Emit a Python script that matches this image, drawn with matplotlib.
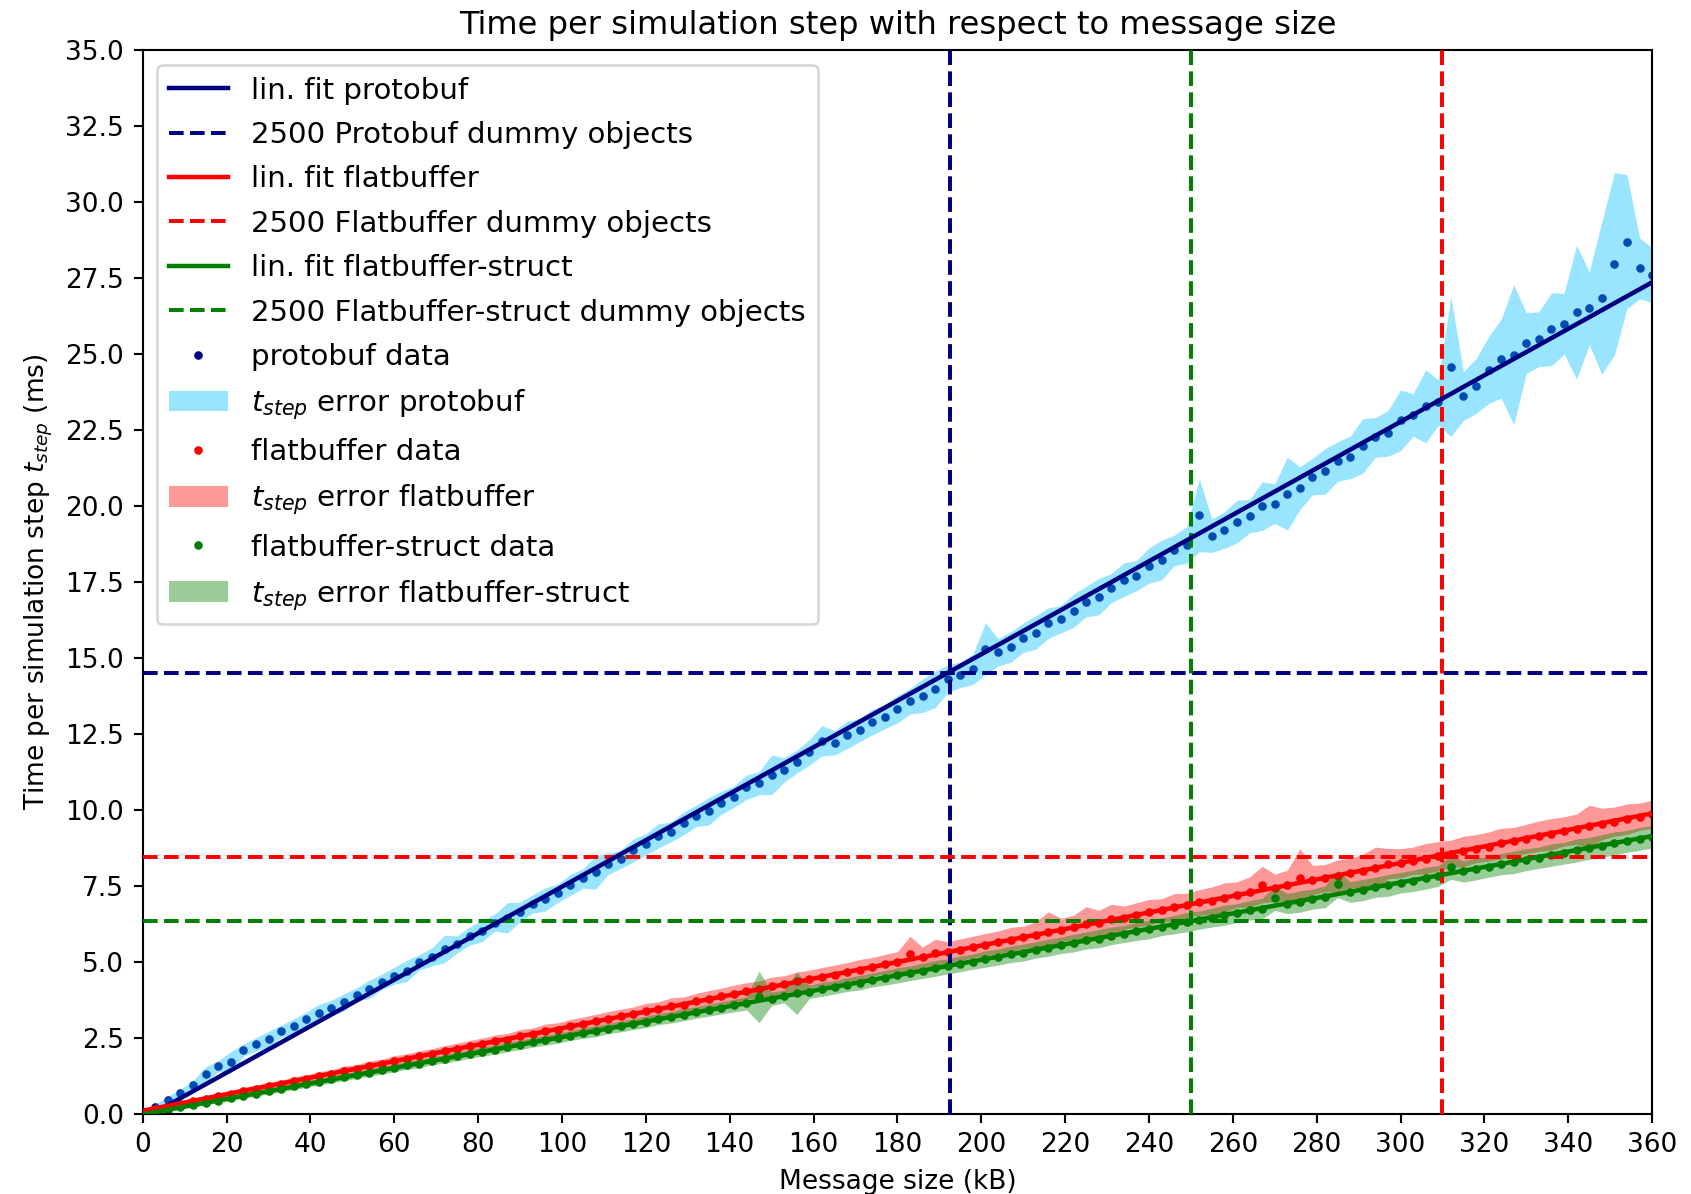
import numpy as np
import matplotlib
matplotlib.use("Agg")
import matplotlib.pyplot as plt

# ---------------- data ----------------
x_kb = [0, 3, 6, 9, 12, 15, 18, 21, 24, 27, 30, 33, 36, 39, 42, 45, 48, 51, 54, 57,
        60, 63, 66, 69, 72, 75, 78, 81, 84, 87, 90, 93, 96, 99, 102, 105, 108, 111, 114, 117,
        120, 123, 126, 129, 132, 135, 138, 141, 144, 147, 150, 153, 156, 159, 162, 165, 168, 171, 174, 177,
        180, 183, 186, 189, 192, 195, 198, 201, 204, 207, 210, 213, 216, 219, 222, 225, 228, 231, 234, 237,
        240, 243, 246, 249, 252, 255, 258, 261, 264, 267, 270, 273, 276, 279, 282, 285, 288, 291, 294, 297,
        300, 303, 306, 309, 312, 315, 318, 321, 324, 327, 330, 333, 336, 339, 342, 345, 348, 351, 354, 357,
        360]

protobuf_mean = [0.08, 0.23, 0.46, 0.70, 0.95, 1.30, 1.58, 1.70, 2.10, 2.29, 2.47, 2.72, 2.88, 3.13, 3.31, 3.49, 3.67, 3.93, 4.10, 4.35,
                 4.55, 4.71, 4.99, 5.17, 5.43, 5.58, 5.86, 6.02, 6.30, 6.45, 6.65, 6.91, 7.06, 7.26, 7.54, 7.75, 7.95, 8.23, 8.38, 8.67,
                 8.87, 9.15, 9.28, 9.56, 9.81, 9.96, 10.24, 10.44, 10.75, 10.88, 11.16, 11.32, 11.59, 11.90, 12.28, 12.21, 12.47, 12.63, 12.89, 13.07,
                 13.32, 13.58, 13.76, 13.97, 14.32, 14.45, 14.63, 15.31, 15.19, 15.36, 15.67, 15.84, 16.15, 16.28, 16.56, 16.86, 17.02, 17.30, 17.58, 17.71,
                 18.04, 18.22, 18.54, 18.72, 19.70, 19.03, 19.21, 19.49, 19.67, 20.00, 20.08, 20.41, 20.59, 20.97, 21.14, 21.47, 21.60, 21.98, 22.26, 22.39,
                 22.82, 23.00, 23.28, 23.41, 24.59, 23.62, 23.95, 24.47, 24.85, 24.98, 25.36, 25.49, 25.82, 26.00, 26.38, 26.51, 26.84, 27.97, 28.70, 27.82,
                 27.60]
protobuf_std = [0.06, 0.10, 0.12, 0.12, 0.15, 0.25, 0.18, 0.35, 0.20, 0.22, 0.25, 0.20, 0.25, 0.22, 0.30, 0.25, 0.28, 0.22, 0.30, 0.25,
                0.28, 0.35, 0.25, 0.30, 0.45, 0.28, 0.30, 0.35, 0.28, 0.50, 0.32, 0.30, 0.38, 0.30, 0.35, 0.32, 0.55, 0.35, 0.30, 0.38,
                0.35, 0.40, 0.32, 0.38, 0.35, 0.45, 0.38, 0.35, 0.40, 0.38, 0.65, 0.40, 0.38, 0.42, 0.50, 0.40, 0.45, 0.38, 0.42, 0.40,
                0.45, 0.42, 0.55, 0.60, 0.45, 0.42, 0.50, 0.85, 0.45, 0.50, 0.48, 0.55, 0.50, 0.45, 0.55, 0.50, 0.60, 0.48, 0.55, 0.50,
                0.58, 0.65, 0.50, 0.60, 1.20, 0.55, 0.60, 0.70, 0.55, 0.80, 0.65, 1.20, 0.70, 0.60, 0.75, 0.65, 0.70, 0.90, 0.65, 0.75,
                1.00, 0.70, 1.20, 0.75, 2.30, 0.80, 0.90, 1.10, 1.30, 2.30, 1.00, 0.90, 1.20, 1.00, 2.20, 1.20, 2.50, 3.00, 2.20, 1.00,
                0.90]

flatbuffer_mean = [0.08, 0.16, 0.25, 0.33, 0.43, 0.50, 0.60, 0.66, 0.76, 0.83, 0.93, 0.98, 1.09, 1.15, 1.25, 1.31, 1.42, 1.47, 1.58, 1.64,
                   1.75, 1.80, 1.91, 1.96, 2.07, 2.13, 2.23, 2.29, 2.40, 2.45, 2.56, 2.62, 2.73, 2.78, 2.89, 2.95, 3.06, 3.12, 3.22, 3.28,
                   3.38, 3.45, 3.55, 3.60, 3.71, 3.78, 3.88, 3.94, 4.05, 4.10, 4.20, 4.27, 4.36, 4.44, 4.52, 4.58, 4.68, 4.75, 4.84, 4.93,
                   5.00, 5.25, 5.16, 5.30, 5.33, 5.40, 5.50, 5.57, 5.66, 5.74, 5.82, 5.90, 6.00, 6.06, 6.14, 6.24, 6.30, 6.40, 6.46, 6.55,
                   6.64, 6.70, 6.80, 6.86, 6.96, 7.02, 7.12, 7.22, 7.30, 7.55, 7.44, 7.52, 7.78, 7.70, 7.76, 7.84, 7.93, 8.00, 8.08, 8.24,
                   8.25, 8.33, 8.40, 8.48, 8.56, 8.64, 8.73, 8.80, 8.90, 8.97, 9.05, 9.14, 9.20, 9.30, 9.37, 9.46, 9.54, 9.62, 9.70, 9.78,
                   9.86]
flatbuffer_std = [0.04, 0.05, 0.06, 0.07, 0.08, 0.09, 0.10, 0.10, 0.12, 0.11, 0.13, 0.12, 0.14, 0.13, 0.15, 0.14, 0.16, 0.15, 0.17, 0.16,
                  0.17, 0.18, 0.17, 0.19, 0.18, 0.20, 0.19, 0.21, 0.20, 0.20, 0.22, 0.21, 0.23, 0.22, 0.22, 0.24, 0.22, 0.25, 0.23, 0.24,
                  0.26, 0.24, 0.27, 0.25, 0.26, 0.28, 0.26, 0.30, 0.27, 0.28, 0.30, 0.28, 0.31, 0.29, 0.30, 0.32, 0.30, 0.33, 0.31, 0.32,
                  0.34, 0.60, 0.33, 0.45, 0.34, 0.36, 0.35, 0.37, 0.36, 0.40, 0.36, 0.42, 0.65, 0.38, 0.40, 0.58, 0.40, 0.50, 0.38, 0.40,
                  0.42, 0.38, 0.45, 0.40, 0.42, 0.45, 0.48, 0.42, 0.50, 0.60, 0.45, 0.50, 0.95, 0.48, 0.45, 0.52, 0.48, 0.55, 0.70, 0.50,
                  0.48, 0.45, 0.50, 0.48, 0.45, 0.50, 0.46, 0.48, 0.50, 0.46, 0.48, 0.50, 0.52, 0.48, 0.50, 0.70, 0.52, 0.48, 0.50, 0.45,
                  0.46]

struct_mean = [0.02, 0.07, 0.14, 0.22, 0.29, 0.37, 0.44, 0.52, 0.60, 0.67, 0.75, 0.82, 0.91, 0.98, 1.05, 1.14, 1.21, 1.29, 1.36, 1.44,
               1.51, 1.60, 1.66, 1.75, 1.81, 1.90, 1.97, 2.05, 2.12, 2.21, 2.27, 2.36, 2.42, 2.50, 2.58, 2.66, 2.72, 2.81, 2.88, 2.96,
               3.03, 3.12, 3.18, 3.27, 3.34, 3.42, 3.49, 3.57, 3.64, 3.85, 3.79, 3.87, 3.97, 4.02, 4.10, 4.17, 4.26, 4.32, 4.41, 4.48,
               4.56, 4.63, 4.71, 4.79, 4.86, 4.94, 5.01, 5.10, 5.16, 5.25, 5.31, 5.40, 5.47, 5.55, 5.62, 5.71, 5.77, 5.86, 5.92, 6.01,
               6.07, 6.16, 6.23, 6.31, 6.38, 6.46, 6.54, 6.61, 6.70, 6.76, 7.10, 6.92, 6.99, 7.07, 7.15, 7.57, 7.30, 7.37, 7.46, 7.52,
               7.61, 7.67, 7.76, 7.83, 8.12, 7.98, 8.06, 8.13, 8.22, 8.28, 8.37, 8.43, 8.52, 8.58, 8.67, 8.74, 8.82, 8.90, 8.97, 9.05,
               9.12]
struct_std = [0.03, 0.04, 0.05, 0.05, 0.06, 0.07, 0.07, 0.08, 0.08, 0.09, 0.09, 0.10, 0.10, 0.11, 0.10, 0.12, 0.11, 0.12, 0.12, 0.13,
              0.12, 0.13, 0.14, 0.13, 0.14, 0.15, 0.14, 0.15, 0.15, 0.16, 0.15, 0.16, 0.16, 0.17, 0.16, 0.17, 0.18, 0.17, 0.18, 0.18,
              0.19, 0.18, 0.19, 0.20, 0.19, 0.20, 0.20, 0.21, 0.22, 0.85, 0.22, 0.21, 0.70, 0.22, 0.23, 0.22, 0.23, 0.24, 0.23, 0.24,
              0.25, 0.24, 0.25, 0.26, 0.25, 0.26, 0.25, 0.27, 0.26, 0.27, 0.28, 0.27, 0.28, 0.27, 0.29, 0.28, 0.30, 0.29, 0.28, 0.30,
              0.31, 0.29, 0.30, 0.32, 0.30, 0.31, 0.33, 0.31, 0.32, 0.34, 0.40, 0.33, 0.35, 0.33, 0.36, 0.45, 0.34, 0.35, 0.33, 0.36,
              0.34, 0.35, 0.36, 0.34, 0.40, 0.35, 0.36, 0.34, 0.35, 0.37, 0.36, 0.35, 0.37, 0.36, 0.38, 0.36, 0.37, 0.38, 0.36, 0.38,
              0.37]

# reference lines for 2500 dummy objects
protobuf_2500 = (192.5, 14.5)        # (kB, ms)
flatbuffer_2500 = (310.0, 8.45)
struct_2500 = (250.0, 6.35)

# ---------------- plot ----------------
DPI = 190
fig = plt.figure(figsize=(1691 / DPI, 1194 / DPI), dpi=DPI)
ax = fig.add_axes([0.0844, 0.067, 0.8926, 0.891])

x = np.array(x_kb, dtype=float)

series = [
    ("protobuf", "Protobuf", protobuf_mean, protobuf_std, "navy", "deepskyblue", protobuf_2500),
    ("flatbuffer", "Flatbuffer", flatbuffer_mean, flatbuffer_std, "red", "red", flatbuffer_2500),
    ("flatbuffer-struct", "Flatbuffer-struct", struct_mean, struct_std, "green", "green", struct_2500),
]

line_handles = []
data_handles = []
for name, cap, mean, std, col, fcol, ref in series:
    m = np.array(mean)
    s = np.array(std)
    d, = ax.plot(x, m, ".", color=col, markersize=4.5, zorder=2, label=f"{name} data")
    f = ax.fill_between(x, m - s, m + s, color=fcol, alpha=0.4, linewidth=0, zorder=2,
                        label=r"$t_{step}$ error " + name)
    data_handles += [d, f]
    k, b = np.polyfit(x, m, 1)
    fl, = ax.plot(x, k * x + b, "-", color=col, linewidth=1.7, zorder=4, label=f"lin. fit {name}")
    ax.axvline(ref[0], color=col, linestyle="--", linewidth=1.5, zorder=3)
    hl = ax.axhline(ref[1], color=col, linestyle="--", linewidth=1.5, zorder=3,
                    label=f"2500 {cap} dummy objects")
    line_handles += [fl, hl]

ax.set_xlim(0, 360)
ax.set_ylim(0, 35)
ax.set_xticks(np.arange(0, 361, 20))
ax.set_yticks(np.arange(0, 35.01, 2.5))
ax.set_title("Time per simulation step with respect to message size", fontsize=12.2)
ax.set_xlabel("Message size (kB)")
ax.set_ylabel(r"Time per simulation step $t_{step}$ (ms)")

handles = line_handles + data_handles
ax.legend(handles=handles, labels=[h.get_label() for h in handles], loc="upper left",
          fontsize=11.1, handlelength=2.0, labelspacing=0.56)

fig.savefig("out.png", dpi=DPI)
